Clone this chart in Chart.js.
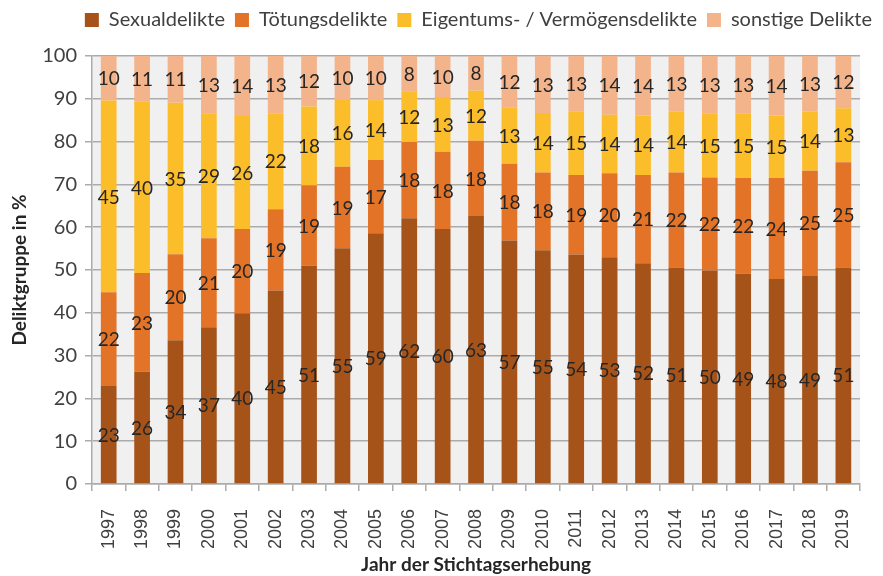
<!DOCTYPE html>
<html lang="de">
<head>
<meta charset="utf-8">
<title>Deliktgruppen</title>
<script src="https://cdn.jsdelivr.net/npm/chart.js@4.4.1/dist/chart.umd.min.js"></script>
<style>
    html, body { margin: 0; padding: 0; background: #ffffff; }
    #wrap { width: 883px; height: 576px; }
</style>
</head>
<body>
<div id="wrap"><canvas id="delikt-chart" width="883" height="576"></canvas></div>
<script>
// Data (percent per year)
const years = ['1997', '1998', '1999', '2000', '2001', '2002', '2003', '2004', '2005', '2006', '2007', '2008',
    '2009', '2010', '2011', '2012', '2013', '2014', '2015', '2016', '2017', '2018', '2019'];
const sexualdelikte = [22.9, 26.2, 33.6, 36.6, 39.9, 45.2, 51.0, 55.1, 58.6, 62.1, 59.6, 62.6,
    56.9, 54.6, 53.6, 53.0, 51.6, 50.6, 49.9, 49.1, 47.9, 48.6, 50.6];
const toetungsdelikte = [21.9, 23.1, 20.1, 20.8, 19.7, 19.0, 18.8, 19.0, 17.1, 17.8, 18.0, 17.6,
    17.9, 18.2, 18.6, 19.6, 20.6, 22.2, 21.7, 22.4, 23.6, 24.6, 24.6];
const eigentumsdelikte = [44.8, 40.0, 35.4, 29.2, 26.4, 22.4, 18.4, 15.8, 14.0, 11.7, 12.8, 11.7,
    13.2, 13.9, 14.9, 13.7, 13.9, 14.2, 15.0, 15.1, 14.6, 13.8, 12.6];
const sonstigeDelikte = [10.4, 10.7, 10.9, 13.4, 14.0, 13.4, 11.8, 10.1, 10.3, 8.4, 9.6, 8.1,
    12.0, 13.3, 12.9, 13.7, 13.9, 13.0, 13.4, 13.4, 13.9, 13.0, 12.2];
const seriesNames = ['Sexualdelikte', 'Tötungsdelikte', 'Eigentums- / Vermögensdelikte', 'sonstige Delikte'];
const seriesColors = ['#a6531a', '#e37326', '#fbbd2a', '#f3b48c'];
const yTicks = [0, 10, 20, 30, 40, 50, 60, 70, 80, 90, 100];

const textColor = '#404040';
const gridColor = '#ababab';

// grey plot background
const plotBackground = {
    id: 'plotBackground',
    beforeDraw(chart) {
        const { ctx, chartArea } = chart;
        ctx.save();
        ctx.fillStyle = '#f0f0f0';
        ctx.fillRect(chartArea.left, chartArea.top, chartArea.right - chartArea.left, chartArea.bottom - chartArea.top);
        ctx.restore();
    }
};

// rounded value in the middle of each segment
const segmentLabels = {
    id: 'segmentLabels',
    afterDatasetsDraw(chart) {
        const ctx = chart.ctx;
        ctx.save();
        ctx.font = '19px Lato';
        ctx.fillStyle = '#262626';
        ctx.textAlign = 'center';
        ctx.textBaseline = 'middle';
        chart.data.datasets.forEach((ds, i) => {
            const meta = chart.getDatasetMeta(i);
            meta.data.forEach((bar, j) => {
                const y = (bar.y + bar.base) / 2;
                ctx.fillText(String(Math.round(ds.data[j])), bar.x, y + 1);
            });
        });
        ctx.restore();
    }
};

const seriesData = [sexualdelikte, toetungsdelikte, eigentumsdelikte, sonstigeDelikte];

new Chart(document.getElementById('delikt-chart'), {
    type: 'bar',
    data: {
        labels: years,
        datasets: seriesData.map((d, i) => ({
            label: seriesNames[i],
            data: d,
            backgroundColor: seriesColors[i],
            borderWidth: 0,
            barPercentage: 0.94,
            categoryPercentage: 0.5
        }))
    },
    options: {
        responsive: false,
        animation: false,
        layout: { padding: { top: 0, right: 1, left: 0, bottom: 0 } },
        plugins: {
            legend: {
                position: 'top',
                align: 'end',
                weight: 3000,
                labels: {
                    color: textColor,
                    font: { family: 'Lato', size: 20 },
                    boxWidth: 14,
                    boxHeight: 14,
                    padding: 10
                }
            },
            // empty title used as a spacer between legend and plot
            title: {
                display: true,
                text: ' ',
                font: { size: 10 },
                padding: { top: 0, bottom: 4 }
            },
            tooltip: { enabled: false }
        },
        scales: {
            x: {
                stacked: true,
                grid: {
                    display: true,
                    drawOnChartArea: false,
                    drawTicks: true,
                    tickLength: 7,
                    color: gridColor,
                    lineWidth: 1.5
                },
                border: { color: gridColor, width: 1.5 },
                ticks: {
                    color: textColor,
                    font: { family: 'Liberation Sans', size: 18 },
                    minRotation: 90,
                    maxRotation: 90,
                    padding: 18
                },
                title: {
                    display: true,
                    text: 'Jahr der Stichtagserhebung',
                    color: '#262626',
                    font: { family: 'Lato', size: 19, weight: 'bold' },
                    padding: { top: 0, bottom: 0 }
                },
                afterFit(scale) { scale.height = 92; }
            },
            y: {
                stacked: true,
                min: 0,
                max: 100,
                afterBuildTicks(scale) { scale.ticks = yTicks.map(v => ({ value: v })); },
                grid: {
                    color: gridColor,
                    lineWidth: 1.5,
                    tickLength: 7
                },
                border: { color: gridColor, width: 1.5 },
                ticks: {
                    color: textColor,
                    font: { family: 'Lato', size: 20 },
                    padding: 8
                },
                title: {
                    display: true,
                    text: 'Deliktgruppe in %',
                    color: '#262626',
                    font: { family: 'Lato', size: 19, weight: 'bold' },
                    padding: { top: 8, bottom: 0 }
                },
                afterFit(scale) { scale.width = 92; }
            }
        }
    },
    plugins: [plotBackground, segmentLabels]
});
</script>
</body>
</html>
